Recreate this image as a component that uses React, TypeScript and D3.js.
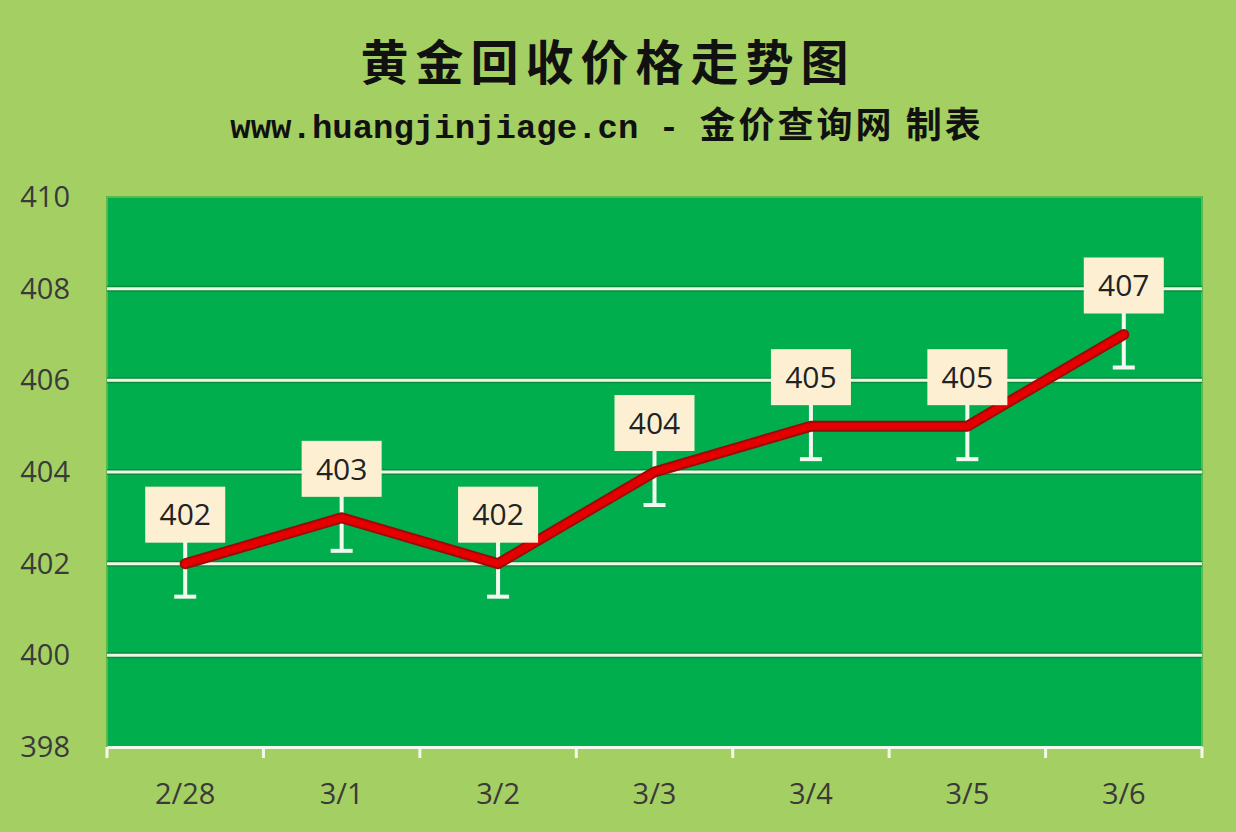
import React, { useRef, useEffect } from 'react';
import * as d3 from 'd3';

const categories = ['2/28', '3/1', '3/2', '3/3', '3/4', '3/5', '3/6'];
const prices = [402, 403, 402, 404, 405, 405, 407];
const yTicks = [398, 400, 402, 404, 406, 408, 410];
const errorSize = 0.72;

const title = '黄金回收价格走势图';
const subtitleLatin = 'www.huangjinjiage.cn - ';
const subtitleCjk = '金价查询网 制表';

const WIDTH = 1236;
const HEIGHT = 832;

const App: React.FC = () => {
  const svgRef = useRef<SVGSVGElement>(null);

  useEffect(() => {
    if (!svgRef.current) return;
    const svg = d3.select(svgRef.current);
    svg.selectAll('*').remove();

    const margin = { top: 197, right: 34, bottom: 85, left: 107 };
    const innerWidth = WIDTH - margin.left - margin.right;
    const innerHeight = HEIGHT - margin.top - margin.bottom;

    // background
    svg.append('rect').attr('width', WIDTH).attr('height', HEIGHT).attr('fill', '#a4cf62');

    // titles
    svg
      .append('text')
      .attr('x', 608)
      .attr('y', 80)
      .attr('text-anchor', 'middle')
      .attr('font-family', '"Noto Sans CJK SC", sans-serif')
      .attr('font-size', 48)
      .attr('font-weight', 'bold')
      .attr('letter-spacing', 7)
      .attr('fill', '#111')
      .text(title);

    const sub = svg
      .append('text')
      .attr('x', 607)
      .attr('y', 138)
      .attr('text-anchor', 'middle')
      .attr('font-weight', 'bold')
      .attr('fill', '#111');
    sub
      .append('tspan')
      .attr('font-family', '"Liberation Mono", monospace')
      .attr('font-size', 34)
      .text(subtitleLatin);
    sub
      .append('tspan')
      .attr('font-family', '"Noto Sans CJK SC", sans-serif')
      .attr('font-size', 36)
      .attr('letter-spacing', 3)
      .text(subtitleCjk);

    const x = d3.scaleBand().domain(categories).range([0, innerWidth]);
    const y = d3.scaleLinear().domain([398, 410]).range([innerHeight, 0]);
    const cx = (c: string) => (x(c) || 0) + x.bandwidth() / 2;

    const g = svg.append('g').attr('transform', `translate(${margin.left},${margin.top})`);

    // plot area
    g.append('rect')
      .attr('x', 0)
      .attr('y', 0)
      .attr('width', innerWidth)
      .attr('height', innerHeight)
      .attr('fill', '#00ae4e')
      .attr('stroke', '#5cb84a')
      .attr('stroke-width', 2);

    // grid lines
    const grid = g
      .append('g')
      .selectAll('g')
      .data(yTicks.filter((t) => t > 398 && t < 410))
      .enter()
      .append('g');
    grid
      .append('line')
      .attr('x1', 0)
      .attr('x2', innerWidth)
      .attr('y1', (d) => y(d))
      .attr('y2', (d) => y(d))
      .attr('stroke', '#0b8a3c')
      .attr('stroke-width', 6);
    grid
      .append('line')
      .attr('x1', 0)
      .attr('x2', innerWidth)
      .attr('y1', (d) => y(d))
      .attr('y2', (d) => y(d))
      .attr('stroke', '#eef7e6')
      .attr('stroke-width', 3);

    // y-axis labels
    g.append('g')
      .selectAll('text')
      .data(yTicks)
      .enter()
      .append('text')
      .attr('x', -37)
      .attr('y', (d) => y(d))
      .attr('dy', '0.35em')
      .attr('text-anchor', 'end')
      .attr('font-family', '"Open Sans", sans-serif')
      .attr('font-size', 29)
      .attr('fill', '#3a3a3a')
      .text((d) => d);

    // x-axis
    const xAxis = g
      .append('g')
      .attr('transform', `translate(0,${innerHeight})`)
      .call(
        d3
          .axisBottom(x)
          .tickSize(0)
          .tickPadding(36)
      );
    xAxis.select('.domain').attr('stroke', '#f4f9ee').attr('stroke-width', 3);
    xAxis
      .selectAll('text')
      .attr('font-family', '"Open Sans", sans-serif')
      .attr('font-size', 29)
      .attr('fill', '#3a3a3a');
    g.append('g')
      .selectAll('line')
      .data(d3.range(categories.length + 1))
      .enter()
      .append('line')
      .attr('x1', (i) => i * x.step())
      .attr('x2', (i) => i * x.step())
      .attr('y1', innerHeight)
      .attr('y2', innerHeight + 11)
      .attr('stroke', '#f4f9ee')
      .attr('stroke-width', 3);

    // error bars
    const bars = g.append('g').selectAll('g').data(categories).enter().append('g');
    bars
      .append('line')
      .attr('x1', (c) => cx(c))
      .attr('x2', (c) => cx(c))
      .attr('y1', (c, i) => y(prices[i] + errorSize))
      .attr('y2', (c, i) => y(prices[i] - errorSize))
      .attr('stroke', '#f4f9ee')
      .attr('stroke-width', 4);
    bars
      .append('line')
      .attr('x1', (c) => cx(c) - 11)
      .attr('x2', (c) => cx(c) + 11)
      .attr('y1', (c, i) => y(prices[i] - errorSize))
      .attr('y2', (c, i) => y(prices[i] - errorSize))
      .attr('stroke', '#f4f9ee')
      .attr('stroke-width', 4);

    // price line
    const line = d3
      .line<number>()
      .x((d, i) => cx(categories[i]))
      .y((d) => y(d));
    g.append('path')
      .datum(prices)
      .attr('d', line)
      .attr('fill', 'none')
      .attr('stroke', '#9c0a0a')
      .attr('stroke-width', 11)
      .attr('stroke-linejoin', 'round')
      .attr('stroke-linecap', 'round');
    g.append('path')
      .datum(prices)
      .attr('d', line)
      .attr('fill', 'none')
      .attr('stroke', '#e40000')
      .attr('stroke-width', 7)
      .attr('stroke-linejoin', 'round')
      .attr('stroke-linecap', 'round');

    // data labels
    const labels = g.append('g').selectAll('g').data(categories).enter().append('g')
      .attr('transform', (c, i) => `translate(${cx(c)},${y(prices[i]) - 49})`);
    labels
      .append('rect')
      .attr('x', -40)
      .attr('y', -28)
      .attr('width', 80)
      .attr('height', 56)
      .attr('fill', '#fdf0d2');
    labels
      .append('text')
      .attr('text-anchor', 'middle')
      .attr('dy', '0.36em')
      .attr('font-family', '"Open Sans", sans-serif')
      .attr('font-size', 30)
      .attr('fill', '#222')
      .text((c, i) => prices[i]);
  }, []);

  return (
    <svg
      ref={svgRef}
      width={WIDTH}
      height={HEIGHT}
      style={{ position: 'absolute', left: 0, top: 0 }}
    />
  );
};

export default App;
